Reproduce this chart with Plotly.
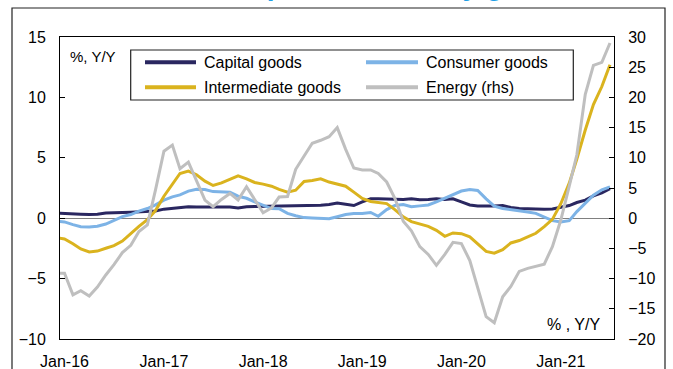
import plotly.graph_objects as go
import pandas as pd

# ---------------- data (Dec-15 .. Jul-21, monthly) ----------------
months = pd.date_range("2015-12-01", periods=68, freq="MS")

capital_goods = [0.42,
    0.41, 0.37, 0.33, 0.30, 0.33, 0.43, 0.48, 0.48, 0.50, 0.55, 0.55, 0.60,
    0.75, 0.80, 0.90, 0.95, 0.92, 0.92, 0.94, 0.94, 0.92, 0.85, 0.95, 0.97,
    0.98, 0.99, 0.99, 0.99, 1.00, 1.00, 1.03, 1.08, 1.13, 1.25, 1.15, 1.05,
    1.35, 1.60, 1.60, 1.57, 1.55, 1.55, 1.60, 1.53, 1.55, 1.60, 1.55, 1.60,
    1.35, 1.10, 1.02, 1.00, 1.00, 1.05, 0.88, 0.80, 0.77, 0.75, 0.74, 0.77,
    0.90, 1.05, 1.30, 1.50, 1.85, 2.10, 2.45]

consumer_goods = [-0.25,
    -0.31, -0.53, -0.70, -0.73, -0.67, -0.48, -0.17, 0.13, 0.30, 0.58, 0.80, 1.10,
    1.49, 1.77, 1.93, 2.24, 2.40, 2.38, 2.20, 2.15, 2.15, 1.82, 1.65, 1.35,
    1.10, 0.80, 0.78, 0.40, 0.20, 0.05, 0.02, 0.00, -0.05, 0.12, 0.30, 0.38,
    0.38, 0.47, 0.16, 0.71, 1.05, 1.13, 0.95, 1.02, 1.10, 1.35, 1.65, 2.00,
    2.25, 2.38, 2.30, 1.60, 1.00, 0.80, 0.72, 0.62, 0.52, 0.40, 0.10, -0.20,
    -0.32, -0.20, 0.55, 1.20, 1.90, 2.35, 2.60]

intermediate_goods = [-1.62,
    -1.72, -2.11, -2.55, -2.80, -2.72, -2.49, -2.27, -1.89, -1.25, -0.67, -0.12, 0.63,
    1.82, 2.85, 3.70, 3.90, 3.60, 3.07, 2.71, 2.93, 3.21, 3.51, 3.26, 2.96,
    2.82, 2.65, 2.38, 2.16, 2.32, 3.04, 3.12, 3.26, 2.99, 2.80, 2.65, 2.16,
    1.63, 1.38, 1.32, 1.21, 0.71, 0.11, -0.28, -0.48, -0.67, -1.00, -1.50, -1.22,
    -1.28, -1.55, -2.10, -2.75, -2.90, -2.60, -2.05, -1.85, -1.55, -1.25, -0.70, -0.10,
    1.20, 2.90, 4.90, 7.30, 9.40, 10.90, 12.70]

energy_rhs = [-9.1,
    -9.1, -12.7, -12.0, -12.9, -11.4, -9.4, -7.7, -5.7, -4.5, -2.2, -1.1, 4.7,
    11.1, 12.1, 8.2, 9.3, 6.3, 3.0, 1.9, 3.1, 4.1, 3.0, 5.2, 3.1,
    0.9, 1.7, 3.5, 3.6, 8.1, 10.3, 12.4, 12.9, 13.5, 15.0, 11.4, 8.3,
    8.0, 8.0, 7.4, 6.0, 3.3, -0.5, -2.1, -4.7, -6.0, -7.8, -6.0, -4.0,
    -4.2, -7.0, -11.5, -16.3, -17.3, -13.0, -11.3, -8.8, -8.3, -8.0, -7.6, -4.7,
    -0.3, 5.3, 10.5, 20.5, 25.3, 25.8, 29.0]

series_names = ["Capital goods", "Consumer goods", "Intermediate goods", "Energy (rhs)"]
series_colors = ["#2A2760", "#7DB3E6", "#DAB31E", "#BFBFBF"]

tick_dates = pd.to_datetime(["2016-01-01", "2017-01-01", "2018-01-01",
                             "2019-01-01", "2020-01-01", "2021-01-01"])
tick_text = ["Jan-16", "Jan-17", "Jan-18", "Jan-19", "Jan-20", "Jan-21"]

left_ticks = [-10, -5, 0, 5, 10, 15]
right_ticks = [-20, -15, -10, -5, 0, 5, 10, 15, 20, 25, 30]

# ---------------- geometry helpers ----------------
W, H = 673, 369
L, R, T, B = 60, 59, 37, 30
PW, PH = W - L - R, H - T - B


def px(x):
    return (x - L) / PW


def py(y):
    return (H - B - y) / PH


FONT = "Liberation Sans, Arial, sans-serif"

fig = go.Figure()
values = [capital_goods, consumer_goods, intermediate_goods, energy_rhs]
axes = ["y", "y", "y", "y2"]
for name, vals, col, ax in zip(series_names, values, series_colors, axes):
    fig.add_trace(go.Scatter(x=months, y=vals, name=name, mode="lines",
                             line=dict(color=col, width=3), yaxis=ax,
                             showlegend=False))

fig.update_layout(
    width=W, height=H,
    margin=dict(l=L, r=R, t=T, b=B, autoexpand=False),
    paper_bgcolor="white", plot_bgcolor="white",
    font=dict(family=FONT, size=16, color="black"),
    xaxis=dict(type="date", range=["2015-12-15 10:00", "2021-07-15 18:00"],
               tickvals=tick_dates, ticktext=tick_text, ticks="",
               showline=True, linecolor="black", linewidth=1, mirror=True,
               showgrid=False, zeroline=False, tickfont=dict(size=16),
               ticklabelstandoff=8, automargin=False),
    yaxis=dict(range=[-10, 15], tickvals=left_ticks, ticks="inside", ticklen=5,
               tickcolor="black", showline=True, linecolor="black", linewidth=1,
               showgrid=False, zeroline=True, zerolinecolor="#808080",
               zerolinewidth=1, tickfont=dict(size=16), ticklabelstandoff=10,
               automargin=False),
    yaxis2=dict(range=[-20, 30], tickvals=right_ticks, ticks="inside", ticklen=5,
                tickcolor="black", overlaying="y", side="right", showline=True,
                linecolor="black", linewidth=1, showgrid=False, zeroline=False,
                tickfont=dict(size=16), ticklabelstandoff=10, automargin=False),
)

shapes = []
# outer frame (bottom edge outside the picture)
shapes.append(dict(type="rect", xref="paper", yref="paper",
                   x0=px(12), x1=px(665), y0=py(380), y1=py(8),
                   line=dict(color="#222222", width=1.2), layer="above"))
# legend box
shapes.append(dict(type="rect", xref="paper", yref="paper",
                   x0=px(130.7), x1=px(573.3), y0=py(100), y1=py(50),
                   line=dict(color="#222222", width=1.2), fillcolor="white",
                   layer="above"))
legend_pos = [(145, 196, 202, 62.3), (366, 418, 424, 62.3),
              (145, 196, 202, 87.3), (366, 418, 424, 87.3)]
annotations = []
for (lx0, lx1, tx, ty), name, col in zip(legend_pos, series_names, series_colors):
    shapes.append(dict(type="line", xref="paper", yref="paper",
                       x0=px(lx0), x1=px(lx1), y0=py(ty), y1=py(ty),
                       line=dict(color=col, width=4), layer="above"))
    annotations.append(dict(text=name, xref="paper", yref="paper",
                            x=px(tx), y=py(ty), xanchor="left", yanchor="middle",
                            showarrow=False, font=dict(size=16, color="black")))

annotations.append(dict(text="%, Y/Y", xref="paper", yref="paper",
                        x=px(68), y=py(56.5), xanchor="left", yanchor="middle",
                        showarrow=False, font=dict(size=15, color="black")))
annotations.append(dict(text="% , Y/Y", xref="paper", yref="paper",
                        x=px(602), y=py(324), xanchor="right", yanchor="middle",
                        showarrow=False, font=dict(size=16, color="black")))
# title (mostly cut off at the top of the picture, as in the original)
annotations.append(dict(text="<b>Euro area import inflation by goods</b>",
                        xref="paper", yref="paper", x=px(333), y=py(-15),
                        xanchor="center", yanchor="middle", showarrow=False,
                        font=dict(size=28, color="#1EA0E6")))

fig.update_layout(shapes=shapes, annotations=annotations)
fig.write_html("out.html")
